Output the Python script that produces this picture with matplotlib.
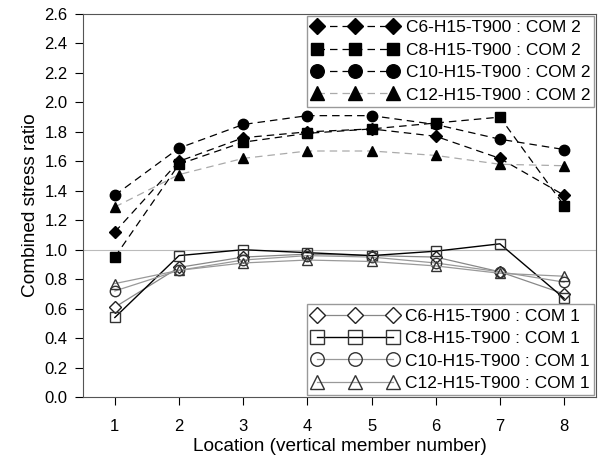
import matplotlib
matplotlib.use("Agg")
import matplotlib.pyplot as plt

plt.rcParams["font.family"] = ["Liberation Sans", "DejaVu Sans"]

location = [1, 2, 3, 4, 5, 6, 7, 8]

# COM 2
c6_com2 = [1.12, 1.60, 1.76, 1.80, 1.82, 1.77, 1.62, 1.37]
c8_com2 = [0.95, 1.58, 1.73, 1.79, 1.82, 1.86, 1.90, 1.30]
c10_com2 = [1.37, 1.69, 1.85, 1.91, 1.91, 1.85, 1.75, 1.68]
c12_com2 = [1.29, 1.51, 1.62, 1.67, 1.67, 1.64, 1.58, 1.57]

# COM 1
c6_com1 = [0.61, 0.88, 0.95, 0.97, 0.96, 0.95, 0.85, 0.70]
c8_com1 = [0.54, 0.96, 1.00, 0.98, 0.96, 0.99, 1.04, 0.67]
c10_com1 = [0.72, 0.86, 0.93, 0.96, 0.95, 0.91, 0.85, 0.78]
c12_com1 = [0.77, 0.86, 0.91, 0.93, 0.92, 0.89, 0.84, 0.82]

fig = plt.figure(figsize=(6.04, 4.59), dpi=100)
ax = fig.add_axes([0.137, 0.135, 0.85, 0.8345])

ax.axhline(1.0, color="#bbbbbb", lw=0.8, zorder=0)

ms = 7.5
dash = (0, (6, 4))
h2 = []
h2 += ax.plot(location, c6_com2, marker="D", ls=dash, color="black", ms=ms - 1, lw=0.9, label="C6-H15-T900 : COM 2")
h2 += ax.plot(location, c8_com2, marker="s", ls=dash, color="black", ms=ms - 0.5, lw=0.9, label="C8-H15-T900 : COM 2")
h2 += ax.plot(location, c10_com2, marker="o", ls=dash, color="black", ms=ms, lw=0.9, label="C10-H15-T900 : COM 2")
h2 += ax.plot(location, c12_com2, marker="^", ls=dash, color="#aaaaaa", mfc="black", mec="black", ms=ms, lw=0.9, label="C12-H15-T900 : COM 2")

h1 = []
h1 += ax.plot(location, c6_com1, "D-", color="#888888", mfc="white", mec="#222222", ms=ms - 1, lw=0.9, label="C6-H15-T900 : COM 1")
h1 += ax.plot(location, c8_com1, "s-", color="black", mfc="none", mec="#333333", ms=ms, lw=1.0, label="C8-H15-T900 : COM 1")
h1 += ax.plot(location, c10_com1, "o-", color="#999999", mfc="none", mec="#333333", ms=ms, lw=0.9, label="C10-H15-T900 : COM 1")
h1 += ax.plot(location, c12_com1, "^-", color="#999999", mfc="none", mec="#333333", ms=ms, lw=0.9, label="C12-H15-T900 : COM 1")

ax.set_xlim(0.5, 8.5)
ax.set_ylim(0, 2.6)
ax.set_xticks(location)
ax.set_yticks([i / 10 for i in range(0, 27, 2)])
ax.set_yticklabels([f"{i / 10:.1f}" for i in range(0, 27, 2)])
ax.tick_params(direction="out", labelsize=12, length=6)
ax.tick_params(axis="x", pad=10)
ax.tick_params(axis="y", pad=5)
for s in ax.spines.values():
    s.set_color("#555555")

ax.set_xlabel("Location (vertical member number)", fontsize=13.7, labelpad=3)
ax.set_ylabel("Combined stress ratio", fontsize=13.7, labelpad=4)

leg_kw = dict(numpoints=3, fontsize=12.5, fancybox=False, edgecolor="#999999",
              framealpha=1, borderaxespad=0.1, handlelength=5.0,
              handletextpad=0.4, labelspacing=0.42, borderpad=0.25,
              markerscale=1.3)
leg2 = ax.legend(handles=h2, loc="upper right", **leg_kw)
ax.add_artist(leg2)
ax.legend(handles=h1, loc="lower right", **leg_kw)

fig.savefig("out.png")
